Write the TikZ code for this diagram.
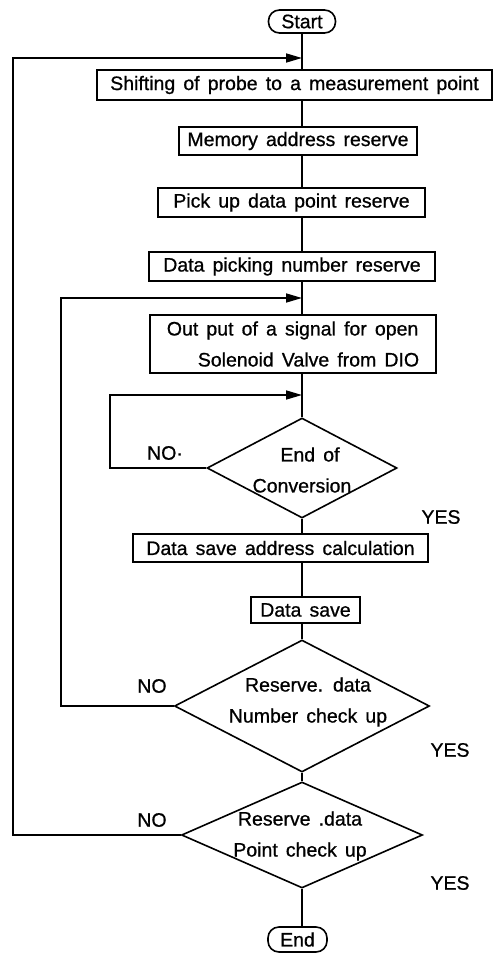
\documentclass[tikz,border=0pt]{standalone}
\usepackage{fontspec}
\setmainfont[WordSpace=1.5,FakeBold=0.8]{Liberation Sans}
\usetikzlibrary{arrows.meta,shapes.geometric}
\begin{document}
\begin{tikzpicture}[x=1pt,y=-1pt,
  font=\fontsize{19.5}{31}\selectfont,
  line width=1.6pt,
  box/.style={draw, rectangle, inner sep=0pt},
  term/.style={draw, rounded corners=11pt, inner sep=0pt},
  dia/.style={draw, diamond, inner sep=0pt},
  lab/.style={inner sep=0pt},
  arr/.style={-{Triangle[length=16pt,width=9pt]}}]
\useasboundingbox (0,0) rectangle (503,958);

% terminals and boxes
\node[term, minimum width=67pt, minimum height=23pt] (start) at (302,21.5) {Start};
\node[box, minimum width=395pt, minimum height=30pt] (shift) at (294.5,85) {Shifting of probe to a measurement point};
\node[box, minimum width=238pt, minimum height=28pt] (mem) at (298,141) {Memory address reserve};
\node[box, minimum width=267pt, minimum height=29pt] (pick) at (291.5,202.5) {Pick up data point reserve};
\node[box, minimum width=286pt, minimum height=29pt] (num) at (292,266.5) {Data picking number reserve};
\node[box, minimum width=286pt, minimum height=58pt, align=left] (out) at (293,344) {Out put of a signal for open\\\hspace*{31pt}Solenoid Valve from DIO};
\node[dia, minimum width=190pt, minimum height=100pt] (d1) at (302,468) {};
\node[lab, align=center] (d1t) at (302,470) {\hspace*{16pt}End of\\Conversion};
\node[box, minimum width=295pt, minimum height=28pt] (calc) at (280.5,548) {Data save address calculation};
\node[box, minimum width=109pt, minimum height=26pt] (save) at (305.5,610) {Data save};
\node[dia, minimum width=255pt, minimum height=132pt] (d2) at (302,706) {};
\node[lab, align=center] (d2t) at (308,702) {Reserve. data\\Number check up};
\node[dia, minimum width=241pt, minimum height=106pt] (d3) at (302,835) {};
\node[lab, align=center] (d3t) at (300,836) {Reserve .data\\Point check up};
\node[term, minimum width=59pt, minimum height=25pt] (end) at (297.5,939.5) {End};

% labels
\node[lab] (no1) at (165,453) {NO·};
\node[lab] (yes1) at (441,517) {YES};
\node[lab] (no2) at (152,686) {NO};
\node[lab] (yes2) at (450,750) {YES};
\node[lab] (no3) at (152,820) {NO};
\node[lab] (yes3) at (450,883) {YES};

% main column
\draw (start.south) -- (start.south |- shift.north);
\draw (start.south |- shift.south) -- (start.south |- mem.north);
\draw (start.south |- mem.south) -- (start.south |- pick.north);
\draw (start.south |- pick.south) -- (start.south |- num.north);
\draw (start.south |- num.south) -- (start.south |- out.north);
\draw (start.south |- out.south) -- (d1.north);
\draw (d1.south) -- (start.south |- calc.north);
\draw (start.south |- calc.south) -- (start.south |- save.north);
\draw (start.south |- save.south) -- (d2.north);
\draw (d2.south) -- (d3.north);
\draw (d3.south) -- (d3.south |- end.north);

% loop-back junctions
\coordinate (j1) at (302,58);
\coordinate (j2) at (302,298);
\coordinate (j3) at (302,395);
\coordinate (l1) at (13,835);
\coordinate (l2) at (61,706);
\coordinate (l3) at (110,468);

\draw[arr] (d3.west) -- (l1) |- (j1);
\draw[arr] (d2.west) -- (l2) |- (j2);
\draw[arr] (d1.west) -- (l3) |- (j3);
\end{tikzpicture}
\end{document}
